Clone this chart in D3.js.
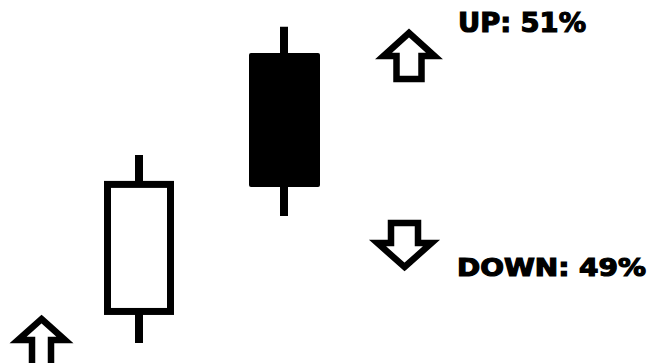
<!DOCTYPE html>
<html>
<head>
<meta charset="utf-8">
<script src="https://cdn.jsdelivr.net/npm/d3@7"></script>
<style>
  html, body { margin: 0; padding: 0; background: #fff; }
  svg { display: block; }
</style>
</head>
<body>
<svg id="chart"></svg>
<script>
// Candles (price units, 0-100)
const candles = ['c1', 'c2'];
const opens  = [14.2, 85.4];
const highs  = [57.3, 92.6];
const lows   = [5.5, 40.5];
const closes = [49.2, 48.5];

// Probability labels
const labels = ['UP: 51%', 'DOWN: 49%'];

// Chart dimensions
const width = 655;
const height = 363;

const svg = d3.select('#chart')
  .attr('width', width)
  .attr('height', height);

// Scales
const xScale = d3.scalePoint()
  .domain(candles)
  .range([139, 284]);

const yScale = d3.scaleLinear()
  .domain([0, 100])
  .range([height, 0]);

const data = candles.map((c, i) => ({
  id: c, open: opens[i], high: highs[i], low: lows[i], close: closes[i]
}));

const bodyW = 70;
const stroke = 7;

// Wicks
svg.selectAll('.wick')
  .data(data)
  .enter().append('line')
  .attr('class', 'wick')
  .attr('x1', d => xScale(d.id))
  .attr('x2', d => xScale(d.id))
  .attr('y1', d => yScale(d.high))
  .attr('y2', d => yScale(d.low))
  .attr('stroke', '#000')
  .attr('stroke-width', 8);

// Bodies
svg.selectAll('.body')
  .data(data)
  .enter().append('rect')
  .attr('class', 'body')
  .each(function(d) {
    const up = d.close > d.open;
    const top = yScale(Math.max(d.open, d.close));
    const bot = yScale(Math.min(d.open, d.close));
    const r = d3.select(this);
    if (up) {
      r.attr('x', xScale(d.id) - bodyW / 2 + stroke / 2)
        .attr('y', top)
        .attr('width', bodyW - stroke)
        .attr('height', bot - top)
        .attr('fill', '#fff')
        .attr('stroke', '#000')
        .attr('stroke-width', stroke);
    } else {
      r.attr('x', xScale(d.id) - bodyW / 2)
        .attr('y', top)
        .attr('width', bodyW + 1)
        .attr('height', bot - top)
        .attr('rx', 2)
        .attr('fill', '#000');
    }
  });

// Arrow outline path (pointing up, tip at 0,0)
function arrowPath(half, stemHalf, shoulder, len) {
  return `M0,0 L${half},${shoulder} L${stemHalf},${shoulder} L${stemHalf},${len}
    L${-stemHalf},${len} L${-stemHalf},${shoulder} L${-half},${shoulder} Z`;
}

const arrows = [
  { x: 409, y: 33, dir: 1, half: 25.5, stem: 12.5, shoulder: 23, len: 46 },
  { x: 404.5, y: 267, dir: -1, half: 27, stem: 13.5, shoulder: 24, len: 44 },
  { x: 41.5, y: 319, dir: 1, half: 23.5, stem: 9.5, shoulder: 21, len: 60 }
];

svg.selectAll('.arrow')
  .data(arrows)
  .enter().append('path')
  .attr('class', 'arrow')
  .attr('d', d => arrowPath(d.half, d.stem, d.shoulder, d.len))
  .attr('transform', d => `translate(${d.x},${d.y}) scale(1,${d.dir})`)
  .attr('fill', '#fff')
  .attr('stroke', '#000')
  .attr('stroke-width', 6.5)
  .attr('stroke-linejoin', 'miter')
  .attr('stroke-miterlimit', 3);

// Labels
const labelPos = [
  { x: 458, y: 32, size: 26, len: 128 },
  { x: 457, y: 276, size: 24, len: 189 }
];

svg.selectAll('.label')
  .data(labels)
  .enter().append('text')
  .attr('class', 'label')
  .attr('x', (d, i) => labelPos[i].x)
  .attr('y', (d, i) => labelPos[i].y)
  .attr('textLength', (d, i) => labelPos[i].len)
  .attr('lengthAdjust', 'spacingAndGlyphs')
  .style('font-family', '"DejaVu Sans", Verdana, sans-serif')
  .style('font-weight', 'bold')
  .style('font-size', (d, i) => labelPos[i].size + 'px')
  .attr('fill', '#000')
  .attr('stroke', '#000')
  .attr('stroke-width', 1.2)
  .text(d => d);
</script>
</body>
</html>
